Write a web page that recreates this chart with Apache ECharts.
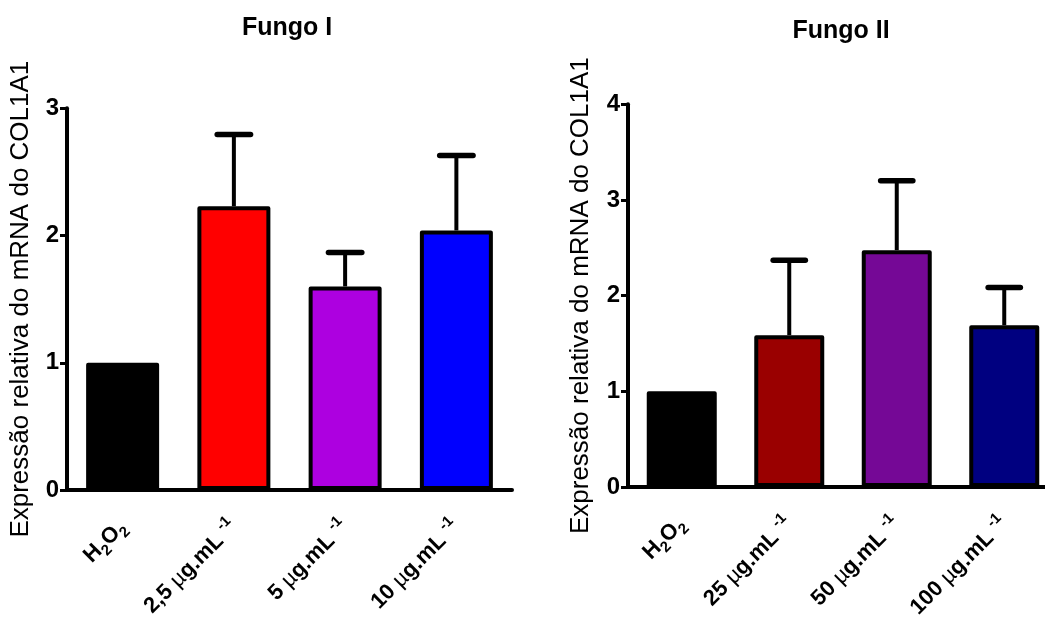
<!DOCTYPE html>
<html>
<head>
<meta charset="utf-8">
<script src="https://cdn.jsdelivr.net/npm/echarts@6/dist/echarts.min.js"></script>
<style>html,body{margin:0;padding:0;background:#fff;overflow:hidden;}#c{width:1060px;height:621px;}</style>
</head>
<body>
<div id="c"></div>
<script>
// ---- data ----
const titles = ['Fungo I', 'Fungo II'];
const yAxisName = 'Expressão relativa do mRNA do COL1A1';
const categories1 = ['H2O2', '2,5 µg.mL -1', '5 µg.mL -1', '10 µg.mL -1'];
const means1 = [1.0, 2.23, 1.60, 2.04];
const upper1 = [1.0, 2.795, 1.866, 2.63];
const colors1 = ['#000000', '#FF0000', '#AD00E0', '#0000FF'];
const yTicks1 = [0, 1, 2, 3];

const categories2 = ['H2O2', '25 µg.mL -1', '50 µg.mL -1', '100 µg.mL -1'];
const means2 = [1.0, 1.587, 2.475, 1.69];
const upper2 = [1.0, 2.37, 3.20, 2.085];
const colors2 = ['#000000', '#9A0000', '#750896', '#000080'];
const yTicks2 = [0, 1, 2, 3, 4];

// ---- helpers ----
const BOLD = 'Liberation Sans, Arial, sans-serif';
function fmtLabel(v) {
  if (v === 'H2O2') return '{b|H}{sub|2}{b|O}{sub|2}';
  const m = v.match(/^(\S+) µ(g\.mL) (-1)$/);
  if (!m) return '{b|' + v + '}';
  return '{b|' + m[1] + ' }{mu|µ}{b|' + m[2] + ' }{sup|' + m[3] + '}';
}
const rich = {
  b: {fontFamily: BOLD, fontWeight: 'bold', fontSize: 22, lineHeight: 30, color: '#000'},
  mu: {fontFamily: BOLD, fontWeight: 'normal', fontSize: 22, lineHeight: 30, color: '#000'},
  sub: {fontFamily: BOLD, fontWeight: 'bold', fontSize: 15, lineHeight: 15, verticalAlign: 'bottom', color: '#000'},
  sup: {fontFamily: BOLD, fontWeight: 'bold', fontSize: 15, lineHeight: 15, verticalAlign: 'top', color: '#000'}
};
function errRender(params, api) {
  const x = api.value(0), m = api.value(1), u = api.value(2);
  if (!(u > m)) return null;
  const p0 = api.coord([x, m]);
  const p1 = api.coord([x, u]);
  const hw = api.size([1, 0])[0] * 0.15;
  return {
    type: 'group',
    children: [
      {type: 'line', shape: {x1: p0[0], y1: p0[1], x2: p1[0], y2: p1[1]}, style: {stroke: '#000', lineWidth: 4}},
      {type: 'line', shape: {x1: p1[0] - hw, y1: p1[1], x2: p1[0] + hw, y2: p1[1]}, style: {stroke: '#000', lineWidth: 5.5, lineCap: 'round'}}
    ]
  };
}
function xAxisCfg(idx, cats) {
  return {
    type: 'category', gridIndex: idx, data: cats,
    axisLine: {lineStyle: {color: '#000', width: 4}},
    axisTick: {alignWithLabel: true, length: 7, lineStyle: {color: '#000', width: 3}},
    axisLabel: {rotate: 45, margin: 34, interval: 0, formatter: fmtLabel, rich: rich}
  };
}
function yAxisCfg(idx, ticks, gap) {
  return {
    type: 'value', gridIndex: idx, min: ticks[0], max: ticks[ticks.length - 1], interval: 1,
    name: yAxisName, nameLocation: 'middle', nameGap: gap, nameRotate: 90,
    nameTextStyle: {fontFamily: BOLD, fontSize: 26, color: '#000'},
    axisLine: {show: true, lineStyle: {color: '#000', width: 4}},
    axisTick: {show: true, length: 7, lineStyle: {color: '#000', width: 3}},
    axisLabel: {margin: 8, fontFamily: BOLD, fontWeight: 'bold', fontSize: 24, color: '#000'},
    splitLine: {show: false}
  };
}
function barData(means, colors) {
  return means.map((v, i) => ({value: v, itemStyle: {color: colors[i]}}));
}
function errData(means, upper) {
  return means.map((v, i) => [i, v, upper[i]]);
}

const chart = echarts.init(document.getElementById('c'), null, {renderer: 'canvas'});
chart.setOption({
  animation: false,
  backgroundColor: '#fff',
  grid: [
    {left: 67, top: 108.3, width: 445, height: 381.7},
    {left: 628, top: 104.3, width: 430, height: 383}
  ],
  xAxis: [xAxisCfg(0, categories1), xAxisCfg(1, categories2)],
  yAxis: [yAxisCfg(0, yTicks1, 33), yAxisCfg(1, yTicks2, 34)],
  graphic: [
    {type: 'text', x: 287, y: 16, style: {text: titles[0], fill: '#000', font: 'bold 25px "Liberation Sans", Arial', textAlign: 'center', textVerticalAlign: 'top', verticalAlign: 'top'}},
    {type: 'text', x: 841, y: 19, style: {text: titles[1], fill: '#000', font: 'bold 25px "Liberation Sans", Arial', textAlign: 'center', textVerticalAlign: 'top', verticalAlign: 'top'}}
  ],
  series: [
    {type: 'bar', xAxisIndex: 0, yAxisIndex: 0, barWidth: 73, data: barData(means1, colors1),
     itemStyle: {borderColor: '#000', borderWidth: 4, borderJoin: 'round'}},
    {type: 'custom', xAxisIndex: 0, yAxisIndex: 0, renderItem: errRender, data: errData(means1, upper1), encode: {x: 0, y: [1, 2]}, z: 1},
    {type: 'bar', xAxisIndex: 1, yAxisIndex: 1, barWidth: 70, data: barData(means2, colors2),
     itemStyle: {borderColor: '#000', borderWidth: 4, borderJoin: 'round'}},
    {type: 'custom', xAxisIndex: 1, yAxisIndex: 1, renderItem: errRender, data: errData(means2, upper2), encode: {x: 0, y: [1, 2]}, z: 1}
  ]
});
</script>
</body>
</html>
